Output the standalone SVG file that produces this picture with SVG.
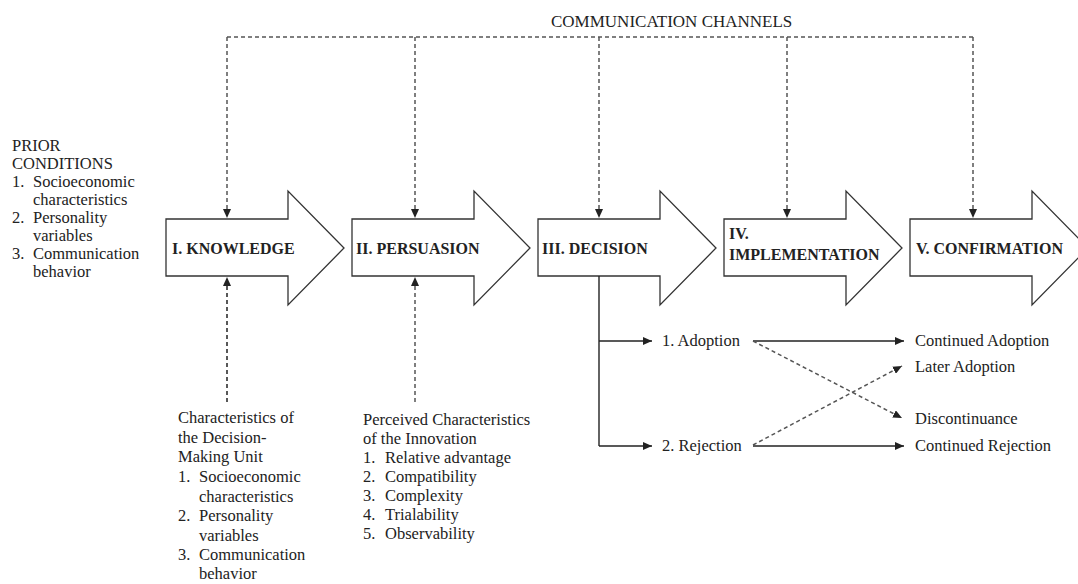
<svg xmlns="http://www.w3.org/2000/svg" width="1078" height="584" viewBox="0 0 1078 584">
  <defs>
    <marker id="ah" viewBox="0 0 9 8" refX="9" refY="4" markerWidth="9" markerHeight="8" markerUnits="userSpaceOnUse" orient="auto">
      <path d="M0,0 L9,4 L0,8 z" fill="#222"/>
    </marker>
    <style>
      .stage { fill: #fff; stroke: #333; stroke-width: 1.3; stroke-linejoin: miter; }
      .lbl { font-family: "Liberation Serif", "Times New Roman", serif; font-size: 16px; font-weight: bold; fill: #222; }
      .txt { font-family: "Liberation Serif", "Times New Roman", serif; font-size: 16.5px; fill: #222; }
      .title { font-family: "Liberation Serif", "Times New Roman", serif; font-size: 17px; fill: #222; }
      .chan { fill: none; stroke: #555; stroke-width: 1.5; stroke-dasharray: 4 3; }
      .dashdark { fill: none; stroke: #222; stroke-width: 1.5; stroke-dasharray: 4 3; }
      .solid { fill: none; stroke: #222; stroke-width: 1.4; }
    </style>
  </defs>
  <rect width="1078" height="584" fill="#fff"/>

  <text class="title" x="551" y="27">COMMUNICATION CHANNELS</text>

  <g id="prior-conditions" class="txt">
    <text x="12" y="151">PRIOR</text>
    <text x="12" y="169">CONDITIONS</text>
    <text x="12" y="187">1.</text><text x="33" y="187">Socioeconomic</text>
    <text x="33" y="205">characteristics</text>
    <text x="12" y="223">2.</text><text x="33" y="223">Personality</text>
    <text x="33" y="241">variables</text>
    <text x="12" y="259">3.</text><text x="33" y="259">Communication</text>
    <text x="33" y="277">behavior</text>
  </g>

  <g id="knowledge">
    <path class="stage" d="M166,219 H288 V191 L344,248 L288,305 V276 H166 Z"/>
    <text class="lbl" x="172" y="254">I. KNOWLEDGE</text>
  </g>
  <g id="persuasion">
    <path class="stage" d="M352,219 H474 V191 L530,248 L474,305 V276 H352 Z"/>
    <text class="lbl" x="356" y="254">II. PERSUASION</text>
  </g>
  <g id="decision">
    <path class="stage" d="M538,219 H660 V191 L716,248 L660,305 V276 H538 Z"/>
    <text class="lbl" x="542" y="254">III. DECISION</text>
  </g>
  <g id="implementation">
    <path class="stage" d="M724,219 H846 V191 L902,248 L846,305 V276 H724 Z"/>
    <text class="lbl" x="729" y="239">IV.</text>
    <text class="lbl" x="729" y="260">IMPLEMENTATION</text>
  </g>
  <g id="confirmation">
    <path class="stage" d="M910,219 H1032 V191 L1088,248 L1032,305 V276 H910 Z"/>
    <text class="lbl" x="916" y="254">V. CONFIRMATION</text>
  </g>

  <g id="decision-unit" class="txt">
    <text x="178" y="423">Characteristics of</text>
    <text x="178" y="443">the Decision-</text>
    <text x="178" y="462">Making Unit</text>
    <text x="178" y="482">1.</text><text x="199" y="482">Socioeconomic</text>
    <text x="199" y="502">characteristics</text>
    <text x="178" y="521">2.</text><text x="199" y="521">Personality</text>
    <text x="199" y="541">variables</text>
    <text x="178" y="560">3.</text><text x="199" y="560">Communication</text>
    <text x="199" y="579">behavior</text>
  </g>

  <g id="innovation" class="txt">
    <text x="363" y="425">Perceived Characteristics</text>
    <text x="363" y="444">of the Innovation</text>
    <text x="363" y="463">1.</text><text x="385" y="463">Relative advantage</text>
    <text x="363" y="482">2.</text><text x="385" y="482">Compatibility</text>
    <text x="363" y="501">3.</text><text x="385" y="501">Complexity</text>
    <text x="363" y="520">4.</text><text x="385" y="520">Trialability</text>
    <text x="363" y="539">5.</text><text x="385" y="539">Observability</text>
  </g>

  <g id="adoption"><text class="txt" x="662" y="346">1. Adoption</text></g>
  <g id="rejection"><text class="txt" x="662" y="451">2. Rejection</text></g>
  <g id="continued-adoption"><text class="txt" x="915" y="346">Continued Adoption</text></g>
  <g id="later-adoption"><text class="txt" x="915" y="372">Later Adoption</text></g>
  <g id="discontinuance"><text class="txt" x="915" y="424">Discontinuance</text></g>
  <g id="continued-rejection"><text class="txt" x="915" y="451">Continued Rejection</text></g>

  <g id="connectors">
    <path class="chan" d="M227,37 H973"/>
    <path class="chan" d="M227,37 V218" marker-end="url(#ah)"/>
    <path class="chan" d="M415,37 V218" marker-end="url(#ah)"/>
    <path class="chan" d="M599,37 V218" marker-end="url(#ah)"/>
    <path class="chan" d="M787,37 V218" marker-end="url(#ah)"/>
    <path class="chan" d="M973,37 V218" marker-end="url(#ah)"/>

    <path class="dashdark" d="M227,402 V277" marker-end="url(#ah)"/>
    <path class="chan" d="M415,402 V277" marker-end="url(#ah)"/>

    <path class="solid" d="M599,276 V446"/>
    <path class="solid" d="M599,341 H652" marker-end="url(#ah)"/>
    <path class="solid" d="M599,446 H652" marker-end="url(#ah)"/>
    <path class="solid" d="M753,341 H904" marker-end="url(#ah)"/>
    <path class="solid" d="M753,446 H904" marker-end="url(#ah)"/>
    <path class="chan" d="M753,341 L902,418" marker-end="url(#ah)"/>
    <path class="chan" d="M753,445 L902,366" marker-end="url(#ah)"/>
  </g>
</svg>
